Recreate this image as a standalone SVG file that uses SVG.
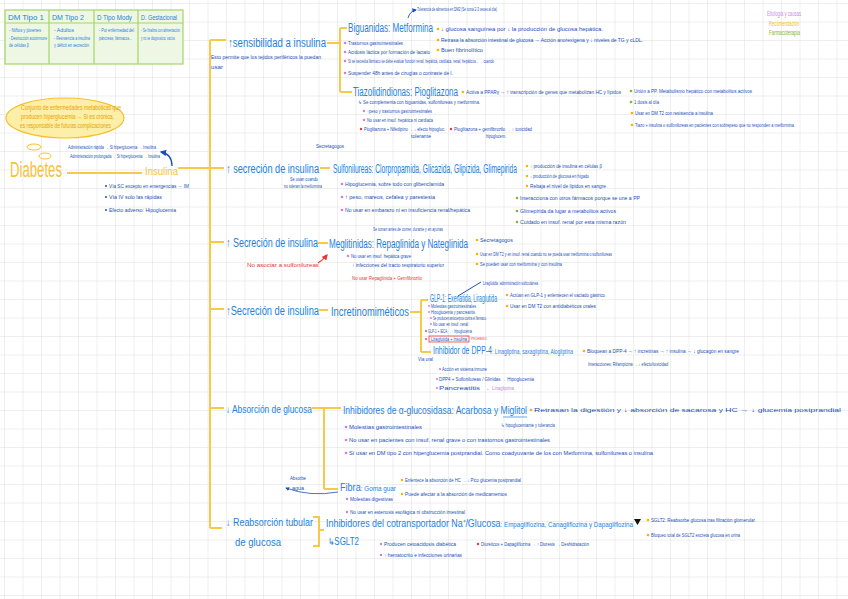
<svg xmlns="http://www.w3.org/2000/svg" width="848" height="599" viewBox="0 0 848 599">
<defs>
<pattern id="grid" width="18.5" height="18.5" patternUnits="userSpaceOnUse" x="5" y="4">
<path d="M18.5 0V18.5M0 18.5H18.5" fill="none" stroke="#dedede" stroke-width="1"/>
</pattern>
<marker id="ab" viewBox="0 0 10 10" refX="8" refY="5" markerWidth="5" markerHeight="5" orient="auto"><path d="M0 0L10 5L0 10z" fill="#1a4fb8"/></marker>
<marker id="ar" viewBox="0 0 10 10" refX="8" refY="5" markerWidth="5" markerHeight="5" orient="auto"><path d="M0 0L10 5L0 10z" fill="#e53935"/></marker>
</defs>
<style>
text{font-family:"Liberation Sans",Arial,sans-serif}
.t{fill:#1e7fe0;font-size:12px}
.tm{fill:#1e7fe0;font-size:10px}
.s{fill:#1a4fb8;font-size:6px}
.n{fill:#1a4fb8;font-size:4.5px}
.rd{fill:#e53935;font-size:6px}
.yl{stroke:#f7c948;stroke-width:2;fill:none}
.bo{fill:#f5b400}.bp{fill:#d67bd6}.bg{fill:#7cb342}.br{fill:#e53935}
.th{fill:#1e7fe0;font-size:6.5px}
.tb{fill:#1e7fe0;font-size:4.5px}
</style>
<rect width="848" height="599" fill="#ffffff"/>
<rect width="848" height="599" fill="url(#grid)"/>

<g id="table">
<rect x="5" y="10" width="178" height="54" fill="#eef7e4" stroke="#a5d46a" stroke-width="1.2"/>
<line x1="5" y1="23" x2="183" y2="23" stroke="#a5d46a" stroke-width="1.2"/>
<line x1="49" y1="10" x2="49" y2="64" stroke="#a5d46a" stroke-width="1.2"/>
<line x1="94" y1="10" x2="94" y2="64" stroke="#a5d46a" stroke-width="1.2"/>
<line x1="138" y1="10" x2="138" y2="64" stroke="#a5d46a" stroke-width="1.2"/>
<text x="8" y="20" class="th" textLength="36" lengthAdjust="spacingAndGlyphs">DM Tipo 1</text>
<text x="52" y="20" class="th" textLength="32" lengthAdjust="spacingAndGlyphs">DM Tipo 2</text>
<text x="97" y="20" class="th" textLength="35" lengthAdjust="spacingAndGlyphs">D Tipo Mody</text>
<text x="141" y="20" class="th" textLength="36" lengthAdjust="spacingAndGlyphs">D. Gestacional</text>
<text x="9" y="32" class="tb" textLength="32" lengthAdjust="spacingAndGlyphs">- Niños y jóvenes</text>
<text x="9" y="40" class="tb" textLength="38" lengthAdjust="spacingAndGlyphs">- Destrucción autoinmune</text>
<text x="9" y="47" class="tb" textLength="20" lengthAdjust="spacingAndGlyphs">de células β</text>
<text x="54" y="32" class="tb" textLength="20" lengthAdjust="spacingAndGlyphs">- Adultos</text>
<text x="54" y="40" class="tb" textLength="36" lengthAdjust="spacingAndGlyphs">- Resistencia a insulina</text>
<text x="54" y="47" class="tb" textLength="35" lengthAdjust="spacingAndGlyphs">y déficit en secreción</text>
<text x="99" y="32" class="tb" textLength="35" lengthAdjust="spacingAndGlyphs">- Por enfermedad del</text>
<text x="99" y="40" class="tb" textLength="33" lengthAdjust="spacingAndGlyphs">páncreas, fármacos...</text>
<text x="141" y="32" class="tb" textLength="39" lengthAdjust="spacingAndGlyphs">- Se finaliza con alimentación</text>
<text x="141" y="40" class="tb" textLength="34" lengthAdjust="spacingAndGlyphs">y no se diagnostica, vacíos</text>
</g>

<g id="legend">
<text x="767" y="16" fill="#c98be6" font-size="7" textLength="34" lengthAdjust="spacingAndGlyphs">Etiología y causas</text>
<text x="769" y="26" fill="#f5c000" font-size="6.5" textLength="30" lengthAdjust="spacingAndGlyphs">Recomendación</text>
<text x="769" y="35" fill="#7cb342" font-size="6.5" textLength="31" lengthAdjust="spacingAndGlyphs">Farmacoterapia</text>
</g>

<g id="definicion">
<ellipse cx="65" cy="118" rx="59" ry="20" fill="#fdeea8" stroke="#f5c030" stroke-width="1.2"/>
<text x="21" y="110" fill="#e8a400" font-size="6.5" textLength="100" lengthAdjust="spacingAndGlyphs">Conjunto de enfermedades metabólicas que</text>
<text x="21" y="119" fill="#e8a400" font-size="6.5" textLength="93" lengthAdjust="spacingAndGlyphs">producen hiperglucemia → Si es crónica,</text>
<text x="20" y="128" fill="#e8a400" font-size="6.5" textLength="91" lengthAdjust="spacingAndGlyphs">es responsable de futuras complicaciones</text>
<ellipse cx="34" cy="147" rx="7" ry="3" fill="none" stroke="#f5c030" stroke-width="1"/>
<ellipse cx="45" cy="156" rx="6" ry="3" fill="none" stroke="#f5c030" stroke-width="1"/>
</g>

<g id="diabetes">
<text x="10" y="177" fill="#f7c23a" font-size="22" textLength="52" lengthAdjust="spacingAndGlyphs">Diabetes</text>
</g>

<g id="insulina">
<text x="145" y="175" fill="#f7c23a" font-size="11" textLength="33" lengthAdjust="spacingAndGlyphs">Insulina</text>
<text x="68" y="149" class="n" textLength="88" lengthAdjust="spacingAndGlyphs">Administración rápida → Si hiperglucemia → Insulina</text>
<text x="70" y="158" class="n" textLength="90" lengthAdjust="spacingAndGlyphs">Administración prolongada → Si hiperglucemia → Insulina</text>
<circle cx="106" cy="186" r="1" fill="#1a4fb8"/>
<text x="109" y="188" class="s" textLength="80" lengthAdjust="spacingAndGlyphs">Vía SC excepto en emergencias → IM</text>
<circle cx="106" cy="197" r="1" fill="#1a4fb8"/>
<text x="109" y="199" class="s" textLength="53" lengthAdjust="spacingAndGlyphs">Vía IV solo las rápidas</text>
<circle cx="106" cy="210" r="1" fill="#1a4fb8"/>
<text x="109" y="212" class="s" textLength="67" lengthAdjust="spacingAndGlyphs">Efecto adverso: Hipoglucemia</text>
</g>

<g id="connectors">
<path class="yl" d="M67 173H142"/>
<path class="yl" d="M178 168H216"/>
<path class="yl" d="M210 40V528"/>
<path class="yl" d="M210 40H226M210 168H224M210 242H224M210 309H224M210 408H224M210 528H222"/>
<path class="yl" d="M327 43H340M340 28V92M340 28H347M340 92H352"/>
<path class="yl" d="M320 168H330"/>
<path class="yl" d="M318 243H328"/>
<path class="yl" d="M319 310H328"/>
<path class="yl" d="M410 312H421M421 300V352M421 300H428M421 352H431"/>
<path class="yl" d="M312 408H324M324 408V489M324 408H341M324 489H338"/>
<path class="yl" d="M313 517H319V546H313M319 530H324"/>
<path d="M172 166Q172 154 161 152" fill="none" stroke="#1a4fb8" stroke-width="1.3" marker-end="url(#ab)"/>
<path d="M408 18Q410 11 416 10" fill="none" stroke="#1a4fb8" stroke-width="0.9" marker-end="url(#ab)"/>
<path d="M318 263Q323 260 327 255" fill="none" stroke="#e53935" stroke-width="1.2" marker-end="url(#ar)"/>
<path d="M458 296L481 282" fill="none" stroke="#1a4fb8" stroke-width="1"/>
<path d="M338 492Q310 497 286 488" fill="none" stroke="#1a4fb8" stroke-width="0.8" marker-end="url(#ab)"/>
</g>

<g id="sensibilidad">
<text x="228" y="47" class="t" textLength="98" lengthAdjust="spacingAndGlyphs">↑sensibilidad a insulina</text>
<text x="211" y="59" class="s" textLength="110" lengthAdjust="spacingAndGlyphs">Esto permite que los tejidos periféricos la puedan</text>
<text x="211" y="69" class="s" textLength="12" lengthAdjust="spacingAndGlyphs">usar</text>
</g>

<g id="biguanidas">
<text x="348" y="32" class="t" textLength="85" lengthAdjust="spacingAndGlyphs">Biguanidas: Metformina</text>
<text x="417" y="11" class="n" textLength="80" lengthAdjust="spacingAndGlyphs">Tolerancia de alimentos en DM2 (Se toma 2-3 veces al día)</text>
<circle cx="438" cy="29" r="1.3" class="bo"/>
<text x="441" y="31" class="s" textLength="162" lengthAdjust="spacingAndGlyphs">↓ glucosa sanguínea por ↓ la producción de glucosa hepática.</text>
<circle cx="438" cy="40" r="1.3" class="bo"/>
<text x="441" y="42" class="s" textLength="202" lengthAdjust="spacingAndGlyphs">Retrasa la absorción intestinal de glucosa → Acción anorexígena y ↓ niveles de TG y cLDL.</text>
<circle cx="438" cy="50" r="1.3" class="bo"/>
<text x="441" y="52" class="s" textLength="42" lengthAdjust="spacingAndGlyphs">Buen fibrinolítico</text>
<circle cx="345" cy="43" r="1.3" class="bp"/>
<text x="348" y="45" class="s" textLength="55" lengthAdjust="spacingAndGlyphs">Trastornos gastrointestinales</text>
<circle cx="345" cy="52" r="1.3" class="bp"/>
<text x="348" y="54" class="s" textLength="82" lengthAdjust="spacingAndGlyphs">Acidosis láctica por formación de lactato</text>
<circle cx="345" cy="61" r="1.3" class="bp"/>
<text x="348" y="63" class="n" textLength="146" lengthAdjust="spacingAndGlyphs">Si se necesita fármaco se debe evaluar función renal, hepática, cardíaca, renal, hepáticos... → cuando</text>
<circle cx="345" cy="73" r="1.3" class="bp"/>
<text x="348" y="75" class="s" textLength="105" lengthAdjust="spacingAndGlyphs">Suspender 48h antes de cirugías o contraste de I.</text>
</g>

<g id="tiazolidindionas">
<text x="353" y="96" class="t" textLength="105" lengthAdjust="spacingAndGlyphs">Tiazolidindionas: Pioglitazona</text>
<circle cx="463" cy="92" r="1.3" class="bo"/>
<text x="466" y="94" class="s" textLength="155" lengthAdjust="spacingAndGlyphs">Activa a PPARγ → ↑ transcripción de genes que metabolizan HC y lípidos</text>
<text x="358" y="104" class="n" textLength="122" lengthAdjust="spacingAndGlyphs">↳ Se complementa con biguanidas, sulfonilureas y metformina.</text>
<circle cx="364" cy="111" r="1.2" class="bp"/>
<text x="367" y="113" class="n" textLength="65" lengthAdjust="spacingAndGlyphs">↑peso y trastornos gastrointestinales</text>
<circle cx="364" cy="120" r="1.2" class="bp"/>
<text x="367" y="122" class="n" textLength="66" lengthAdjust="spacingAndGlyphs">No usar en insuf. hepática ni cardíaca</text>
<circle cx="361" cy="129" r="1.2" class="br"/>
<text x="364" y="131" class="n" textLength="81" lengthAdjust="spacingAndGlyphs">Pioglitazona + Nifedipino → ↓ efecto hipogluc.</text>
<text x="411" y="138" class="n" textLength="20" lengthAdjust="spacingAndGlyphs">tolerante</text>
<circle cx="451" cy="129" r="1.2" class="br"/>
<text x="454" y="131" class="n" textLength="78" lengthAdjust="spacingAndGlyphs">Pioglitazona + gemfibrozilo → ↑ toxicidad</text>
<text x="486" y="138" class="n" textLength="20" lengthAdjust="spacingAndGlyphs">hipoglucem.</text>
<circle cx="631" cy="91" r="1.3" class="bg"/>
<text x="634" y="93" class="s" textLength="118" lengthAdjust="spacingAndGlyphs">Unión a PP. Metabolismo hepático con metabolitos activos</text>
<circle cx="631" cy="102" r="1.3" class="bg"/>
<text x="634" y="104" class="s" textLength="25" lengthAdjust="spacingAndGlyphs">1 dosis al día</text>
<circle cx="632" cy="113" r="1.3" class="bo"/>
<text x="635" y="115" class="s" textLength="78" lengthAdjust="spacingAndGlyphs">Usar en DM T2 con resistencia a insulina</text>
<circle cx="632" cy="125" r="1.3" class="bo"/>
<text x="635" y="127" class="s" textLength="160" lengthAdjust="spacingAndGlyphs">Tiazo + insulina o sulfonilureas en pacientes con sobrepeso que no responden a metformina.</text>
</g>

<g id="sulfonilureas">
<text x="316" y="148" class="s" textLength="28" lengthAdjust="spacingAndGlyphs">Secretagogos</text>
<text x="226" y="173" class="t" textLength="93" lengthAdjust="spacingAndGlyphs">↑ secreción de insulina</text>
<text x="333" y="173" class="t" textLength="184" lengthAdjust="spacingAndGlyphs">Sulfonilureas: Clorpropamida, Glicazida, Glipizida, Glimepirida</text>
<text x="290" y="181" class="n" textLength="28" lengthAdjust="spacingAndGlyphs">Se usan cuando</text>
<text x="284" y="188" class="n" textLength="38" lengthAdjust="spacingAndGlyphs">no toleran la metformina</text>
<circle cx="342" cy="184" r="1.3" class="bp"/>
<text x="345" y="186" class="s" textLength="99" lengthAdjust="spacingAndGlyphs">Hipoglucemia, sobre todo con glibenclamida</text>
<circle cx="342" cy="197" r="1.3" class="bp"/>
<text x="345" y="199" class="s" textLength="90" lengthAdjust="spacingAndGlyphs">↑ peso, mareos, cefalea y parestesia</text>
<circle cx="342" cy="210" r="1.3" class="bp"/>
<text x="345" y="212" class="s" textLength="125" lengthAdjust="spacingAndGlyphs">No usar en embarazo ni en insuficiencia renal/hepática</text>
<circle cx="527" cy="166" r="1.2" class="bo"/>
<text x="530" y="168" class="n" textLength="72" lengthAdjust="spacingAndGlyphs">↑ producción de insulina en células β</text>
<circle cx="527" cy="176" r="1.2" class="bo"/>
<text x="530" y="178" class="n" textLength="59" lengthAdjust="spacingAndGlyphs">↓ producción de glucosa en hígado</text>
<circle cx="527" cy="186" r="1.2" class="bo"/>
<text x="530" y="188" class="n" textLength="76" lengthAdjust="spacingAndGlyphs">Rebaja el nivel de lípidos en sangre</text>
<circle cx="517" cy="198" r="1.3" class="bg"/>
<text x="520" y="200" class="s" textLength="120" lengthAdjust="spacingAndGlyphs">Interacciona con otros fármacos porque se une a PP</text>
<circle cx="517" cy="211" r="1.3" class="bg"/>
<text x="520" y="213" class="s" textLength="96" lengthAdjust="spacingAndGlyphs">Glimepirida da lugar a metabolitos activos</text>
<circle cx="517" cy="222" r="1.3" class="bg"/>
<text x="520" y="224" class="s" textLength="106" lengthAdjust="spacingAndGlyphs">Cuidado en insuf. renal por esta misma razón</text>
</g>

<g id="meglitinidas">
<text x="226" y="247" class="t" textLength="92" lengthAdjust="spacingAndGlyphs">↑ Secreción de insulina</text>
<text x="329" y="248" class="t" textLength="139" lengthAdjust="spacingAndGlyphs">Meglitinidas: Repaglinida y Nateglinida</text>
<text x="373" y="231" class="n" textLength="70" lengthAdjust="spacingAndGlyphs">Se toman antes de comer, durante y en ayunas</text>
<text x="247" y="267" class="rd" textLength="72" lengthAdjust="spacingAndGlyphs">No asociar a sulfonilureas</text>
<circle cx="348" cy="256" r="1.2" class="bp"/>
<text x="351" y="258" class="n" textLength="60" lengthAdjust="spacingAndGlyphs">No usar en insuf. hepática grave</text>
<text x="352" y="267" class="n" textLength="92" lengthAdjust="spacingAndGlyphs">↑ infecciones del tracto respiratorio superior</text>
<text x="352" y="280" fill="#e53935" font-size="5" textLength="70" lengthAdjust="spacingAndGlyphs">No usar Repaglinida + Gemfibrozilo</text>
<circle cx="477" cy="240" r="1.3" class="bo"/>
<text x="480" y="242" class="s" textLength="33" lengthAdjust="spacingAndGlyphs">Secretagogos</text>
<circle cx="477" cy="254" r="1.3" class="bo"/>
<text x="480" y="256" class="n" textLength="132" lengthAdjust="spacingAndGlyphs">Usar en DM T2 y en insuf. renal cuando no se pueda usar metformina o sulfonilureas</text>
<circle cx="477" cy="264" r="1.3" class="bo"/>
<text x="480" y="266" class="n" textLength="82" lengthAdjust="spacingAndGlyphs">Se pueden usar con metformina y con insulina</text>
</g>

<g id="incretinomimeticos">
<text x="226" y="315" class="t" textLength="93" lengthAdjust="spacingAndGlyphs">↑Secreción de insulina</text>
<text x="331" y="316" class="t" textLength="78" lengthAdjust="spacingAndGlyphs">Incretinomiméticos</text>
</g>

<g id="glp1">
<text x="430" y="302" class="tm" textLength="67" lengthAdjust="spacingAndGlyphs">GLP-1: Exenatida, Liraglutida</text>
<text x="483" y="285" class="n" textLength="55" lengthAdjust="spacingAndGlyphs">Liraglutida: administración subcutánea</text>
<circle cx="429" cy="306" r="0.9" class="bp"/>
<text x="431" y="308" class="n" textLength="45" lengthAdjust="spacingAndGlyphs">Molestias gastrointestinales</text>
<circle cx="429" cy="312" r="0.9" class="bp"/>
<text x="431" y="314" class="n" textLength="44" lengthAdjust="spacingAndGlyphs">Hipoglucemia y pancreatitis</text>
<circle cx="431" cy="318" r="0.9" class="bp"/>
<text x="433" y="320" class="n" textLength="53" lengthAdjust="spacingAndGlyphs">Se producen anticuerpos contra el fármaco</text>
<circle cx="431" cy="324" r="0.9" class="bp"/>
<text x="433" y="326" class="n" textLength="35" lengthAdjust="spacingAndGlyphs">No usar en insuf. renal</text>
<circle cx="426" cy="331" r="0.9" class="br"/>
<text x="428" y="333" class="n" textLength="44" lengthAdjust="spacingAndGlyphs">GLP-1 + IECA → ↑ hipoglucemia</text>
<circle cx="426" cy="339" r="0.9" class="br"/>
<rect x="429" y="336" width="40" height="6" fill="none" stroke="#e53935" stroke-width="0.8"/>
<text x="431" y="341" class="n" textLength="36" lengthAdjust="spacingAndGlyphs">Liraglutida + Insulina</text>
<text x="471" y="340" fill="#e53935" font-size="4" textLength="16" lengthAdjust="spacingAndGlyphs">PROHIBIDO</text>
<circle cx="507" cy="295" r="1.3" class="bo"/>
<text x="510" y="297" class="s" textLength="95" lengthAdjust="spacingAndGlyphs">Actúan en GLP-1 y enlentecen el vaciado gástrico</text>
<circle cx="507" cy="306" r="1.3" class="bo"/>
<text x="510" y="308" class="s" textLength="86" lengthAdjust="spacingAndGlyphs">Usar en DM T2 con antidiabéticos orales</text>
</g>

<g id="dpp4">
<text x="433" y="354" class="tm" textLength="140" lengthAdjust="spacingAndGlyphs">Inhibidor de DPP-4<tspan font-size="7">: Linagliptina, saxagliptina, Alogliptina</tspan></text>
<text x="418" y="361" class="n" textLength="15" lengthAdjust="spacingAndGlyphs">Vía oral</text>
<circle cx="440" cy="369" r="1.1" class="bp"/>
<text x="442" y="371" class="n" textLength="45" lengthAdjust="spacingAndGlyphs">Acción en sistema inmune</text>
<circle cx="437" cy="379" r="1.1" class="bp"/>
<text x="439" y="381" class="n" textLength="95" lengthAdjust="spacingAndGlyphs">DPP4 + Sulfonilureas / Glinidas → Hipoglucemia</text>
<circle cx="437" cy="388" r="1.1" class="bp"/>
<text x="439" y="390" class="n" textLength="51" lengthAdjust="spacingAndGlyphs">Pancreatitis →</text>
<text x="492" y="390" fill="#d67bd6" font-size="4.5" textLength="22" lengthAdjust="spacingAndGlyphs">Linagliptina</text>
<circle cx="584" cy="351" r="1.3" class="bo"/>
<text x="587" y="353" class="s" textLength="152" lengthAdjust="spacingAndGlyphs">Bloquean a DPP-4 → ↑ incretinas → ↑ insulina → ↓ glucagón en sangre</text>
<text x="588" y="366" class="n" textLength="80" lengthAdjust="spacingAndGlyphs">Interacciones: Rifampicina → ↓ efecto/toxicidad</text>
</g>

<g id="absorcion">
<text x="226" y="413" class="tm" textLength="86" lengthAdjust="spacingAndGlyphs">↓ Absorción de glucosa</text>
</g>

<g id="alfaglucosidasa">
<text x="343" y="414" class="tm" textLength="184" lengthAdjust="spacingAndGlyphs">Inhibidores de α-glucosidasa: Acarbosa y Miglitol</text>
<line x1="503" y1="417" x2="527" y2="417" stroke="#1e7fe0" stroke-width="0.7"/>
<text x="501" y="427" class="n" textLength="54" lengthAdjust="spacingAndGlyphs">↳ hipoglucemiante y tolerancia</text>
<circle cx="531" cy="410" r="1.3" class="bo"/>
<text x="534" y="412" class="s" textLength="307" lengthAdjust="spacingAndGlyphs">Retrasan la digestión y ↓ absorción de sacarosa y HC → ↓ glucemia postprandial</text>
<circle cx="346" cy="427" r="1.3" class="bp"/>
<text x="349" y="429" class="s" textLength="73" lengthAdjust="spacingAndGlyphs">Molestias gastrointestinales</text>
<circle cx="346" cy="440" r="1.3" class="bp"/>
<text x="349" y="442" class="s" textLength="201" lengthAdjust="spacingAndGlyphs">No usar en pacientes con insuf. renal grave o con trastornos gastrointestinales</text>
<circle cx="346" cy="453" r="1.3" class="bp"/>
<text x="349" y="455" class="s" textLength="304" lengthAdjust="spacingAndGlyphs">Sí usar en DM tipo 2 con hiperglucemia postprandial. Como coadyuvante de los con Metformina, sulfonilureas o insulina</text>
</g>

<g id="fibra">
<text x="340" y="491" class="tm" textLength="56" lengthAdjust="spacingAndGlyphs">Fibra<tspan font-size="7">: Goma guar</tspan></text>
<text x="290" y="480" class="n" textLength="16" lengthAdjust="spacingAndGlyphs">Absorbe</text>
<text x="292" y="490" class="n" textLength="12" lengthAdjust="spacingAndGlyphs">agua</text>
<circle cx="402" cy="480" r="1.2" class="bo"/>
<text x="405" y="482" class="n" textLength="116" lengthAdjust="spacingAndGlyphs">Enlentece la absorción de HC → ↓ Pico glucemia postprandial</text>
<circle cx="402" cy="494" r="1.2" class="bo"/>
<text x="405" y="496" class="n" textLength="102" lengthAdjust="spacingAndGlyphs">Puede afectar a la absorción de medicamentos</text>
<circle cx="347" cy="499" r="1.2" class="bp"/>
<text x="350" y="501" class="n" textLength="43" lengthAdjust="spacingAndGlyphs">Molestias digestivas</text>
<circle cx="347" cy="512" r="1.2" class="bp"/>
<text x="350" y="514" class="n" textLength="115" lengthAdjust="spacingAndGlyphs">No usar en estenosis esofágica ni obstrucción intestinal</text>
</g>

<g id="reabsorcion">
<text x="226" y="526" class="tm" textLength="87" lengthAdjust="spacingAndGlyphs">↓ Reabsorción tubular</text>
<text x="235" y="546" class="tm" textLength="46" lengthAdjust="spacingAndGlyphs">de glucosa</text>
</g>

<g id="sglt2">
<text x="326" y="527" class="tm" textLength="307" lengthAdjust="spacingAndGlyphs">Inhibidores del cotransportador Na⁺/Glucosa<tspan font-size="7">: Empagliflozina, Canagliflozina y Dapagliflozina</tspan></text>
<path d="M634 519H641L637.5 525z" fill="#111"/>
<text x="328" y="545" class="tm" textLength="31" lengthAdjust="spacingAndGlyphs">↳SGLT2</text>
<circle cx="381" cy="544" r="1.2" class="bp"/>
<text x="384" y="546" class="n" textLength="72" lengthAdjust="spacingAndGlyphs">Producen cetoacidosis diabética</text>
<circle cx="381" cy="555" r="1.2" class="bp"/>
<text x="384" y="557" class="n" textLength="78" lengthAdjust="spacingAndGlyphs">↑ hematocrito e infecciones urinarias</text>
<circle cx="478" cy="544" r="1.2" class="br"/>
<text x="481" y="546" class="n" textLength="108" lengthAdjust="spacingAndGlyphs">Diuréticos + Dapagliflozina → ↑ Diuresis → Deshidratación</text>
<circle cx="648" cy="520" r="1.3" class="bo"/>
<text x="651" y="522" class="n" textLength="104" lengthAdjust="spacingAndGlyphs">SGLT2: Reabsorbe glucosa tras filtración glomerular</text>
<circle cx="648" cy="535" r="1.3" class="bo"/>
<text x="651" y="537" class="n" textLength="89" lengthAdjust="spacingAndGlyphs">Bloqueo total de SGLT2 excreta glucosa en orina</text>
</g>
</svg>
